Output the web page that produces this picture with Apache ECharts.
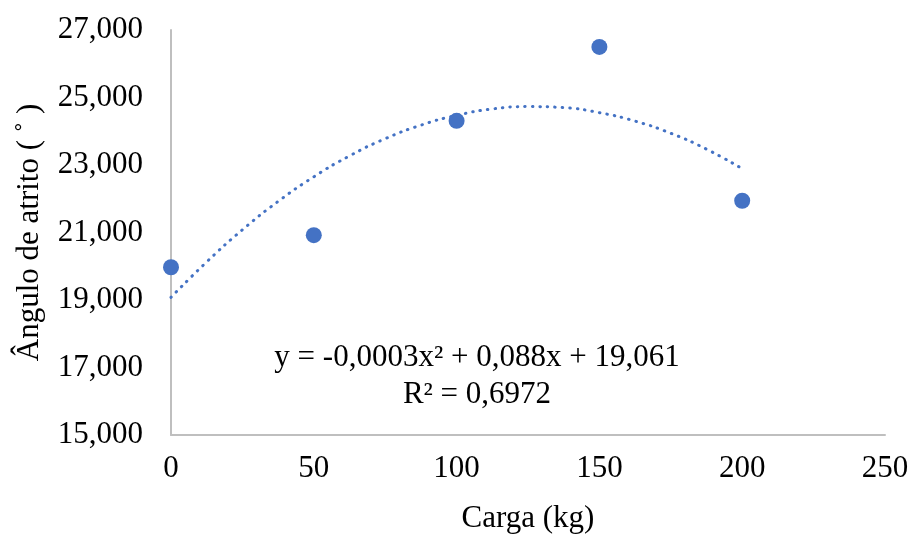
<!DOCTYPE html>
<html>
<head>
<meta charset="utf-8">
<script src="https://cdn.jsdelivr.net/npm/echarts@6/dist/echarts.min.js"></script>
<style>html,body{margin:0;padding:0;background:#fff}#c{width:912px;height:539px}</style>
</head>
<body>
<div id="c"></div>
<script>
// Observed data points (Carga kg, Ângulo de atrito)
const cargaKg = [0, 50, 100, 150, 200];
const anguloAtrito = [19.97, 20.92, 24.31, 26.50, 21.94];
// Trendline (polynomial, order 2)
const trendX = [0, 12.5, 25, 37.5, 50, 62.5, 75, 87.5, 100, 112.5, 125, 137.5, 150, 162.5, 175, 187.5, 200];
const trendY = [19.08, 20.13, 21.08, 21.92, 22.65, 23.27, 23.78, 24.18, 24.47, 24.66, 24.73, 24.70, 24.55, 24.30, 23.94, 23.47, 22.89];
// Axis ticks
const xTicks = [0, 50, 100, 150, 200, 250];
const yTicks = [15, 17, 19, 21, 23, 25, 27];
const equationText = 'y = -0,0003x² + 0,088x + 19,061';
const r2Text = 'R² = 0,6972';

const FONT = '"Liberation Serif", "Times New Roman", serif';
const FS = 31;
const chart = echarts.init(document.getElementById('c'), null, {renderer: 'canvas'});
chart.setOption({
  animation: false,
  backgroundColor: '#ffffff',
  grid: {left: 171, right: 27, top: 30, bottom: 97, containLabel: false},
  xAxis: {
    type: 'value',
    min: xTicks[0], max: xTicks[xTicks.length - 1], interval: 50,
    name: 'Carga (kg)', nameLocation: 'middle', nameGap: 68,
    nameTextStyle: {fontFamily: FONT, fontSize: FS, color: '#000'},
    axisLine: {show: true, lineStyle: {color: '#bfbfbf', width: 2}},
    axisTick: {show: false},
    splitLine: {show: false},
    axisLabel: {fontFamily: FONT, fontSize: FS, color: '#000', margin: 18}
  },
  yAxis: {
    type: 'value',
    min: yTicks[0], max: yTicks[yTicks.length - 1], interval: 2,
    name: 'Ângulo de atrito ( ˚ )', nameLocation: 'middle', nameGap: 126,
    nameTextStyle: {fontFamily: FONT, fontSize: FS, color: '#000'},
    axisLine: {show: true, lineStyle: {color: '#bfbfbf', width: 2}},
    axisTick: {show: false},
    splitLine: {show: false},
    axisLabel: {
      fontFamily: FONT, fontSize: FS, color: '#000', margin: 28,
      formatter: v => v.toFixed(3).replace('.', ',')
    }
  },
  series: [
    {
      type: 'line',
      data: trendX.map((x, i) => [x, trendY[i]]),
      smooth: true,
      showSymbol: false,
      symbol: 'none',
      lineStyle: {color: '#4472C4', width: 3, type: [0.5, 7], cap: 'round'},
      z: 1
    },
    {
      type: 'scatter',
      data: cargaKg.map((x, i) => [x, anguloAtrito[i]]),
      symbol: 'circle',
      symbolSize: 16,
      itemStyle: {color: '#4472C4', opacity: 1},
      z: 2
    }
  ],
  graphic: [
    {type: 'text', x: 477, y: 358, style: {text: equationText, font: FS + 'px ' + FONT, fill: '#000', textAlign: 'center', textVerticalAlign: 'middle'}},
    {type: 'text', x: 477, y: 395, style: {text: r2Text, font: FS + 'px ' + FONT, fill: '#000', textAlign: 'center', textVerticalAlign: 'middle'}}
  ]
});
</script>
</body>
</html>
